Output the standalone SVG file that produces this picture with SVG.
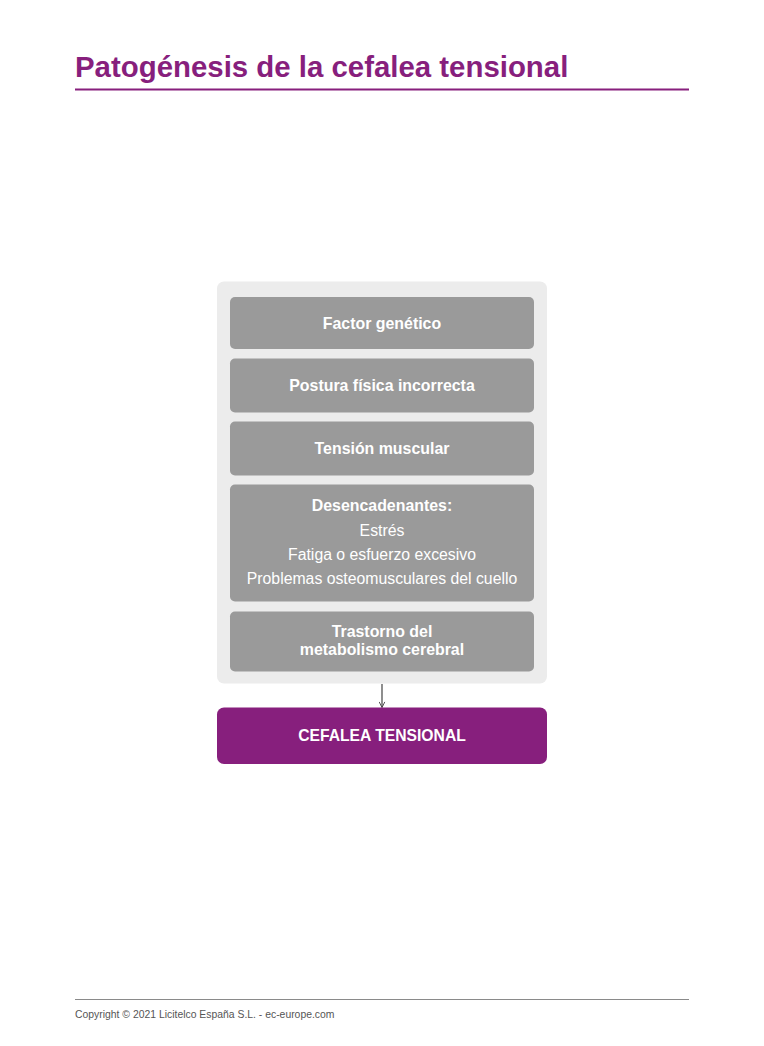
<svg xmlns="http://www.w3.org/2000/svg" width="764" height="1046" viewBox="0 0 764 1046">
<style>
.title{font-family:"Liberation Sans",Arial,sans-serif;font-weight:bold;font-size:29.4px;fill:#871f7d}
.box{fill:#9a9a9a}
.b{font-family:"Liberation Sans",Arial,sans-serif;font-weight:bold;font-size:15.9px;fill:#ffffff;text-anchor:middle}
.r{font-family:"Liberation Sans",Arial,sans-serif;font-size:15.8px;fill:#ffffff;text-anchor:middle}
.foot{font-family:"Liberation Sans",Arial,sans-serif;font-size:10.4px;fill:#555555}
</style>
<defs>
<marker id="arr" viewBox="0 0 10 10" refX="9" refY="5" markerWidth="7" markerHeight="7" orient="auto" markerUnits="userSpaceOnUse">
<path d="M1,1 L9,5 L1,9" fill="none" stroke="#444444" stroke-width="1.3"/>
</marker>
</defs>
<rect width="764" height="1046" fill="#ffffff"/>
<g id="header">
<text class="title" x="75" y="77">Patogénesis de la cefalea tensional</text>
<line x1="75" y1="89.5" x2="689" y2="89.5" stroke="#871f7d" stroke-width="2"/>
</g>
<g id="container">
<rect x="217" y="281.5" width="330" height="402" rx="7" fill="#ececec"/>
</g>
<g id="n1">
<rect class="box" x="230" y="297" width="304" height="52" rx="5"/>
<text class="b" x="382" y="328.5">Factor genético</text>
</g>
<g id="n2">
<rect class="box" x="230" y="358.5" width="304" height="54" rx="5"/>
<text class="b" x="382" y="390.7">Postura física incorrecta</text>
</g>
<g id="n3">
<rect class="box" x="230" y="421.5" width="304" height="54" rx="5"/>
<text class="b" x="382" y="453.7">Tensión muscular</text>
</g>
<g id="n4">
<rect class="box" x="230" y="484.5" width="304" height="117" rx="5"/>
<text class="b" x="382" y="511">Desencadenantes:</text>
<text class="r" x="382" y="535.5">Estrés</text>
<text class="r" x="382" y="560">Fatiga o esfuerzo excesivo</text>
<text class="r" x="382" y="584.3">Problemas osteomusculares del cuello</text>
</g>
<g id="n5">
<rect class="box" x="230" y="611.5" width="304" height="60" rx="5"/>
<text class="b" x="382" y="636.7">Trastorno del</text>
<text class="b" x="382" y="655">metabolismo cerebral</text>
</g>
<g id="connectors">
<line x1="382" y1="684" x2="382" y2="707.5" stroke="#444444" stroke-width="1.2" marker-end="url(#arr)"/>
</g>
<g id="n6">
<rect x="217" y="707.5" width="330" height="56.5" rx="7" fill="#871f7d"/>
<text class="b" x="382" y="740.5" style="font-size:15.7px">CEFALEA TENSIONAL</text>
</g>
<g id="footer">
<line x1="75" y1="999.5" x2="689" y2="999.5" stroke="#8a8a8a" stroke-width="1.2"/>
<text class="foot" x="75" y="1018">Copyright © 2021 Licitelco España S.L. - ec-europe.com</text>
</g>
</svg>
